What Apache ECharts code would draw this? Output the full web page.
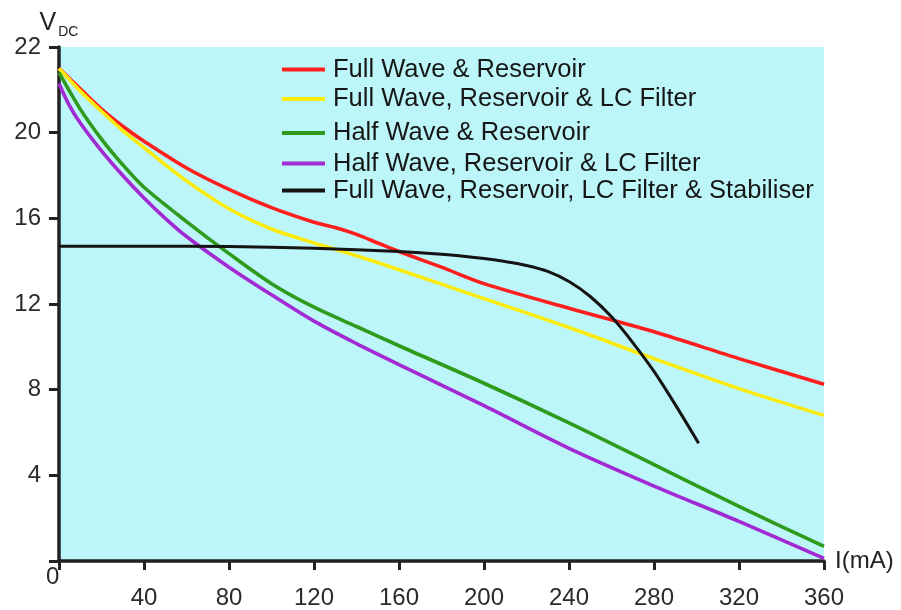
<!DOCTYPE html>
<html>
<head>
<meta charset="utf-8">
<script src="https://cdn.jsdelivr.net/npm/echarts@6/dist/echarts.min.js"></script>
<style>
html,body{margin:0;padding:0;background:#fff;}
#chart{width:901px;height:610px;}
</style>
</head>
<body>
<div id="chart"></div>
<script>
// Series names
const seriesNames = [
  'Full Wave & Reservoir',
  'Full Wave, Reservoir & LC Filter',
  'Half Wave & Reservoir',
  'Half Wave, Reservoir & LC Filter',
  'Full Wave, Reservoir, LC Filter & Stabiliser'
];
// Y tick labels (as printed on the original axis, one per tick step)
const yTickLabels = ['', '4', '8', '12', '16', '20', '22'];

// Full Wave & Reservoir (red)
const fwResI = [0,10,20,30,40,60,80,100,120,130,140,150,160,180,200,240,280,320,360];
const fwResV = [23.0,22.05,21.1,20.3,19.6,18.35,17.35,16.5,15.82,15.57,15.25,14.85,14.45,13.72,12.95,11.8,10.7,9.45,8.25];

// Full Wave, Reservoir & LC Filter (yellow)
const fwLcI = [0,10,20,30,40,60,80,100,120,140,160,200,240,280,320,360];
const fwLcV = [23.0,21.95,21.0,20.1,19.3,17.75,16.45,15.5,14.85,14.25,13.6,12.25,10.9,9.45,8.05,6.8];

// Half Wave & Reservoir (green)
const hwResI = [0,10,20,30,40,60,80,100,120,140,160,200,240,280,320,360];
const hwResV = [22.8,21.1,19.7,18.5,17.45,15.85,14.35,12.95,11.85,10.95,10.05,8.3,6.45,4.5,2.55,0.68];

// Half Wave, Reservoir & LC Filter (purple)
const hwLcI = [0,5,10,20,30,40,50,60,80,100,120,140,160,200,240,280,320,360];
const hwLcV = [22.3,21.25,20.45,19.15,18.0,16.95,16.0,15.15,13.72,12.43,11.2,10.15,9.17,7.25,5.26,3.5,1.85,0.12];

// Full Wave, Reservoir, LC Filter & Stabiliser (black)
const stabI = [0,40,80,120,160,180,200,210,220,230,240,250,260,270,280,290,301];
const stabV = [14.7,14.7,14.68,14.6,14.45,14.32,14.12,13.98,13.8,13.52,13.05,12.35,11.4,10.2,8.85,7.3,5.5];

const colors = ['#ff1e1e', '#fbeb0c', '#2f9a1c', '#a22ad2', '#141414'];
const legendTops = [51.5, 81, 115, 145.5, 172.5];

function pairs(xs, ys) { return xs.map((x, i) => [x, ys[i]]); }
const seriesData = [
  pairs(fwResI, fwResV),
  pairs(fwLcI, fwLcV),
  pairs(hwResI, hwResV),
  pairs(hwLcI, hwLcV),
  pairs(stabI, stabV)
];

const chart = echarts.init(document.getElementById('chart'), null, {renderer: 'canvas'});

const legends = seriesNames.map((n, i) => ({
  data: [n],
  left: 277,
  top: legendTops[i],
  orient: 'vertical',
  icon: 'rect',
  itemWidth: 43,
  itemHeight: 4,
  selectedMode: false,
  textStyle: {fontFamily: 'Liberation Sans, Arial, sans-serif', fontSize: 25.5, color: '#161616', padding: [0, 0, 0, 3]}
}));

const option = {
  animation: false,
  backgroundColor: '#ffffff',
  grid: {left: 59, right: 77, top: 47, bottom: 49, show: true, backgroundColor: '#bdf6f8', borderWidth: 0},
  legend: legends,
  xAxis: {
    type: 'value',
    min: 0, max: 360, interval: 40,
    name: 'I(mA)',
    nameLocation: 'end',
    nameGap: 11,
    nameMoveOverlap: false,
    nameTextStyle: {fontFamily: 'Liberation Sans, Arial, sans-serif', fontSize: 24, color: '#222', verticalAlign: 'middle'},
    axisLine: {show: true, lineStyle: {color: '#222', width: 3.5}},
    axisTick: {show: true, length: 9, lineStyle: {color: '#222', width: 3}},
    axisLabel: {
      fontFamily: 'Liberation Sans, Arial, sans-serif', fontSize: 24, color: '#2a2a2a', margin: 25,
      formatter: v => (v === 0 ? '' : String(v))
    },
    splitLine: {show: false}
  },
  yAxis: {
    type: 'value',
    min: 0, max: 24, interval: 4,
    name: '{v|V}{s|DC}',
    nameLocation: 'end',
    nameGap: 8,
    nameMoveOverlap: false,
    nameTextStyle: {
      rich: {
        v: {fontFamily: 'Liberation Sans, Arial, sans-serif', fontSize: 25, color: '#222'},
        s: {fontFamily: 'Liberation Sans, Arial, sans-serif', fontSize: 14, color: '#222', padding: [18, 0, 0, 2]}
      }
    },
    axisLine: {show: true, lineStyle: {color: '#222', width: 3.5}},
    axisTick: {show: true, length: 10, lineStyle: {color: '#222', width: 3}},
    axisLabel: {
      fontFamily: 'Liberation Sans, Arial, sans-serif', fontSize: 24, color: '#2a2a2a', margin: 18,
      formatter: v => yTickLabels[Math.round(v / 4)]
    },
    splitLine: {show: false}
  },
  graphic: [{
    type: 'text',
    left: 46, top: 565,
    style: {text: '0', font: '24px "Liberation Sans", Arial, sans-serif', fill: '#2a2a2a'}
  }],
  series: seriesNames.map((n, i) => ({
    name: n,
    type: 'line',
    data: seriesData[i],
    showSymbol: false,
    smooth: 0.3,
    lineStyle: {color: colors[i], width: i === 4 ? 3 : 3.6},
    itemStyle: {color: colors[i]},
    z: i === 4 ? 3 : 2
  }))
};
chart.setOption(option);
</script>
</body>
</html>
